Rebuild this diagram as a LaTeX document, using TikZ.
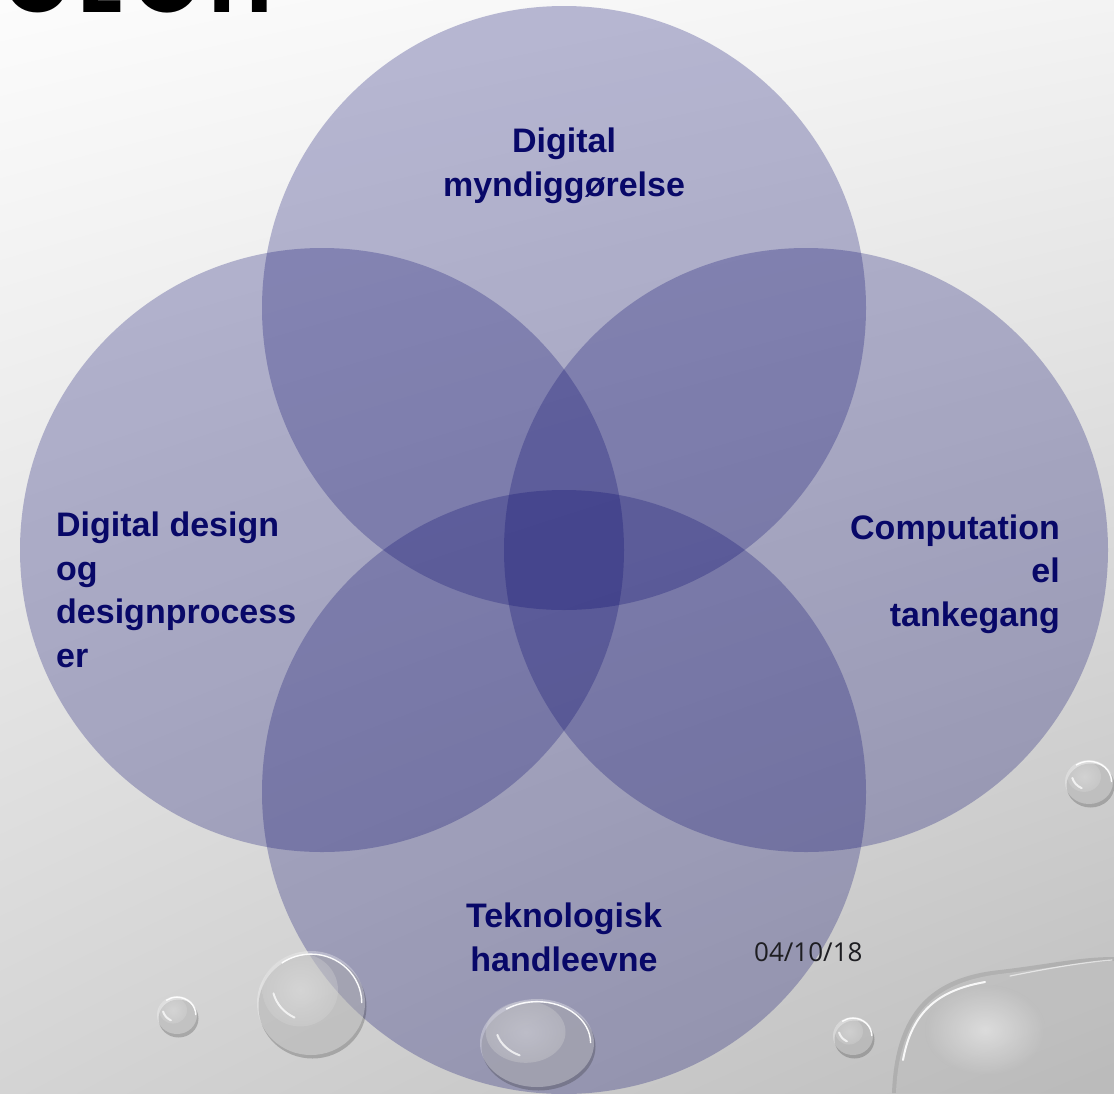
\documentclass[tikz,border=0pt]{standalone}
\usepackage{fontspec}
\usetikzlibrary{shadings}
\setmainfont{Liberation Sans}
\newfontfamily\datefont{Open Sans}
\newfontfamily\titlefont[LetterSpace=10]{Poppins}
\definecolor{venncol}{RGB}{10,10,110}
\definecolor{labelblue}{RGB}{8,8,104}
\definecolor{datecol}{RGB}{30,30,34}
\definecolor{bgTL}{RGB}{252,252,252}
\definecolor{bgTR}{RGB}{243,243,243}
\definecolor{bgBL}{RGB}{212,212,212}
\definecolor{bgBR}{RGB}{190,190,190}
\newcommand\wdrop[4]{%
  \begin{scope}[shift={(#1,#2)}]
    \fill[black, fill opacity=0.2] (1.5,3.5) ellipse [x radius=#3pt, y radius=#4pt];
    \fill[white, fill opacity=0.3] (0,0) ellipse [x radius=#3pt, y radius=#4pt];
    \shade[inner color=white, outer color=gray!30, opacity=0.3] (-0.2*#3,-0.25*#4) ellipse [x radius=0.7*#3pt, y radius=0.7*#4pt];
    \draw[white, line width=1.4pt, opacity=0.95] (0:0.94*#3 and 0.94*#4) arc [start angle=0, end angle=125, x radius=0.94*#3pt, y radius=0.94*#4pt];
    \draw[white, line width=2pt, opacity=0.75, line cap=round] (195:0.72*#3 and 0.72*#4) arc [start angle=195, end angle=245, x radius=0.72*#3pt, y radius=0.72*#4pt];
  \end{scope}}
\begin{document}
\begin{tikzpicture}[x=1pt,y=-1pt,
  venn/.style={circle, minimum size=604pt, inner sep=0pt, fill=venncol, fill opacity=0.27, draw=none},
  lbl/.style={text=labelblue, inner sep=0pt, font=\bfseries\fontsize{34}{43.5}\selectfont},
  datelbl/.style={text=datecol, inner sep=0pt, font=\datefont\fontsize{26}{26}\selectfont},
  titlelbl/.style={text=black, inner sep=0pt, font=\titlefont\bfseries\fontsize{86}{86}\selectfont}]
\useasboundingbox (0,0) rectangle (1114,1093);
\clip (0,0) rectangle (1114,1093);
\shade[upper left=bgTL, upper right=bgTR, lower left=bgBL, lower right=bgBR] (0,0) rectangle (1114,1093);
% title (cut off by the top edge)
\node[titlelbl, anchor=base west] (title) at (4,12) {CEOH};
% circles
\node[venn] (ctop) at (564,308) {};
\node[venn] (cleft) at (322,550) {};
\node[venn] (cright) at (806,550) {};
\node[venn] (cbottom) at (564,792) {};
% labels (anchor = baseline of the last line)
\node[lbl, align=center, anchor=base] (ltop) at (564,196) {Digital\\myndiggørelse};
\node[lbl, align=left, anchor=base west] (lleft) at (56,667) {Digital design\\og\\designprocess\\er};
\node[lbl, align=right, anchor=base east] (lright) at (1060,626) {Computation\\el\\tankegang};
\node[lbl, align=center, anchor=base] (lbottom) at (564,971) {Teknologisk\\handleevne};
\node[datelbl, anchor=base west] (date) at (754,961) {04/10/18};
% water drops
\wdrop{177}{1015}{20}{19}
\wdrop{311}{1003}{54}{52}
\wdrop{537}{1043}{57}{44}
\wdrop{853}{1036}{20}{19}
\wdrop{1089}{782}{24}{22}
% big blob bottom right
\fill[black, fill opacity=0.1] (892,1093) .. controls (895,1012) and (931,977) .. (1000,970) .. controls (1050,964) and (1080,957) .. (1114,957) -- (1114,1093) -- cycle;
\fill[white, fill opacity=0.2] (896,1093) .. controls (899,1015) and (934,982) .. (1000,974) .. controls (1050,968) and (1080,962) .. (1114,961) -- (1114,1093) -- cycle;
\shade[inner color=white, outer color=bgBR, opacity=0.45] (985,1030) ellipse [x radius=60pt, y radius=45pt];
\draw[white, line width=2pt, opacity=0.9, line cap=round] (903,1060) .. controls (912,1010) and (940,990) .. (985,982);
\draw[white, line width=1.2pt, opacity=0.6, line cap=round] (1010,976) .. controls (1050,968) and (1085,962) .. (1112,960);
\end{tikzpicture}
\end{document}
